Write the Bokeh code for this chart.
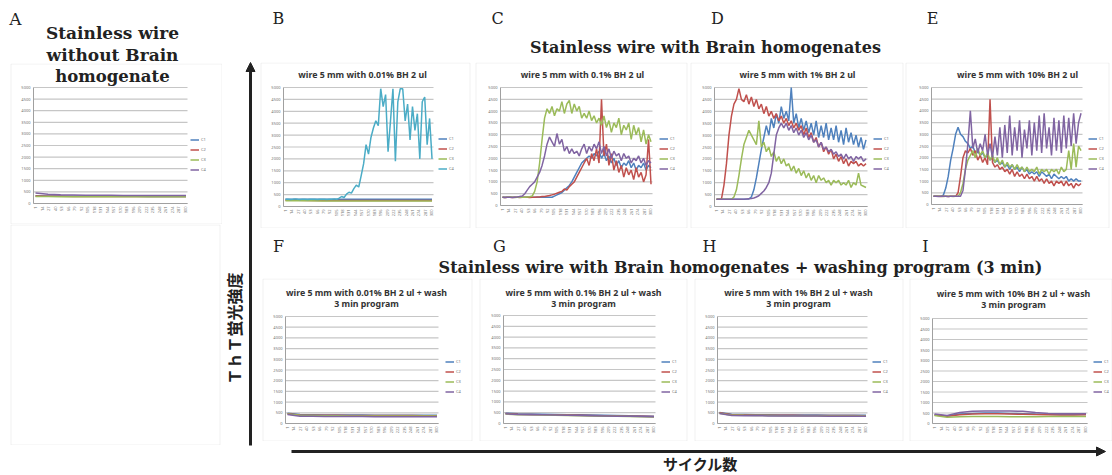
import math
from bokeh.plotting import figure
from bokeh.models import Range1d, Legend, LegendItem, Arrow, NormalHead, BoxAnnotation
from bokeh.layouts import row, column
from bokeh.core.properties import value
from bokeh.embed import file_html
from bokeh.resources import INLINE

# ---------------- data ----------------
cycles = list(range(1, 302, 5))          # 61 sampled cycles
coarse_cycles = list(range(1, 302, 25))  # 13 sampled cycles for flat runs
y_ticks = [0, 500, 1000, 1500, 2000, 2500, 3000, 3500, 4000, 4500, 5000]
x_tick_labels = ["1", "14", "27", "40", "53", "66", "79", "92", "105", "118", "131", "144",
                 "157", "170", "183", "196", "209", "222", "235", "248", "261", "274", "287", "300"]
series_names = ["C1", "C2", "C3", "C4"]
colors_main = ["#4F81BD", "#C0504D", "#9BBB59", "#8064A2"]
colors_b = ["#4F81BD", "#C0504D", "#9BBB59", "#4BACC6"]

# A: no brain homogenate
a_c1 = [330, 320, 320, 315, 315, 310, 310, 310, 310, 305, 305, 305, 305]
a_c2 = [320, 310, 310, 305, 305, 300, 300, 300, 300, 300, 300, 300, 300]
a_c3 = [300, 300, 295, 295, 295, 290, 290, 290, 290, 290, 290, 290, 290]
a_c4 = [450, 400, 380, 370, 360, 360, 355, 350, 350, 350, 350, 350, 350]

# B: 0.01% BH
b_c1 = [300, 300, 300, 300, 300, 300, 300, 300, 300, 300, 300, 300, 300]
b_c2 = [260, 260, 255, 255, 255, 250, 250, 250, 250, 250, 250, 250, 250]
b_c3 = [240, 240, 240, 235, 235, 235, 235, 235, 235, 235, 235, 235, 235]
b_c4 = [300, 310, 290, 300, 320, 300, 290, 310, 300, 290,
        300, 310, 300, 290, 300, 310, 300, 290, 310, 300,
        320, 300, 350, 420, 380, 520, 600, 560, 750, 900,
        820, 1300, 1800, 2600, 2200, 2900, 3300, 3600, 3400, 4950,
        4200, 4700, 2300, 3600, 4950, 1900, 4400, 4950, 4950, 3600,
        4300, 2800, 4200, 3200, 3900, 2000, 4400, 4600, 2600, 3700,
        2000]

# C: 0.1% BH
c_c1 = [350, 345, 350, 350, 345, 350, 350, 345, 350, 350,
        350, 345, 350, 350, 345, 350, 350, 345, 350, 350,
        350, 400, 450, 500, 550, 650, 750, 850, 1000, 1200,
        1400, 1600, 1800, 1900, 2000, 2100, 2000, 2200, 2100, 2300,
        2000, 2200, 1900, 2100, 1800, 2000, 1700, 1900, 1600, 1800,
        1700, 1900, 1600, 1800, 1500, 1700, 1600, 1800, 1500, 1700,
        1600]
c_c2 = [350, 340, 350, 350, 340, 350, 350, 340, 350, 350,
        350, 340, 350, 350, 360, 360, 380, 380, 400, 420,
        450, 480, 520, 560, 600, 700, 650, 800, 900, 1000,
        1200, 1400, 1600, 1800, 2000, 1700, 2200, 1900, 2400, 1800,
        4500, 2100, 2600, 1700, 2200, 1500, 1900, 1400, 1700, 1200,
        1600, 1300, 1500, 1100, 1600, 1200, 1400, 1000, 1300, 2800,
        900]
c_c3 = [350, 340, 350, 360, 350, 340, 350, 360, 350, 350,
        360, 370, 400, 600, 1000, 1800, 2800, 3700, 4100, 3900,
        4200, 3800, 4100, 4000, 4400, 3900, 4300, 4450, 3900, 4300,
        4000, 4200, 3700, 3900, 3700, 4000, 3600, 3800, 3500, 3700,
        3400, 3800, 3300, 3600, 3100, 3500, 3300, 3700, 3000, 3400,
        3200, 3500, 2800, 3400, 3000, 3300, 2700, 3200, 2600, 3000,
        2700]
c_c4 = [350, 340, 350, 350, 340, 350, 360, 380, 400, 500,
        650, 800, 900, 1000, 1200, 1400, 1700, 2100, 2600, 2900,
        2700, 2500, 3050, 2600, 2800, 2300, 2500, 2200, 2400, 2200,
        2300, 2100, 2400, 2600, 2200, 2500, 2300, 2600, 2400, 2700,
        2200, 2500, 2100, 2400, 2000, 2300, 2100, 2200, 1900, 2200,
        2000, 2100, 1800, 2000, 1900, 2100, 1800, 2000, 1700, 1900,
        1800]

# D: 1% BH
d_c1 = [300, 300, 300, 300, 310, 300, 300, 300, 310, 300,
        300, 300, 310, 320, 400, 700, 1200, 1800, 2400, 2900,
        3400, 3000, 3700, 3300, 3900, 3500, 4200, 3700, 4000, 3600,
        5000, 3500, 3900, 3300, 3700, 3200, 3600, 3100, 3500, 3000,
        3600, 2900, 3400, 2900, 3500, 2800, 3300, 2800, 3400, 2700,
        3200, 2600, 3300, 2700, 3100, 2600, 3000, 2500, 2900, 2400,
        2800]
d_c2 = [300, 300, 320, 900, 1800, 3000, 3800, 4300, 4500, 4950,
        4500, 4400, 4700, 4300, 4600, 4200, 4500, 4100, 4300, 3900,
        4200, 3800, 4000, 3700, 3900, 3600, 3800, 3500, 3700, 3400,
        3600, 3300, 3500, 3200, 3400, 3000, 3300, 2900, 3100, 2700,
        2900, 2500, 2700, 2300, 2500, 2200, 2400, 2000, 2200, 1900,
        2100, 1800, 2000, 1700, 1900, 1800, 1900, 1700, 1800, 1700,
        1800]
d_c3 = [300, 300, 300, 310, 300, 300, 300, 400, 700, 1300,
        2000, 2600, 2900, 3200, 3000, 2800, 2600, 3600, 2500, 2700,
        2300, 2500, 2100, 2300, 1900, 2100, 1800, 2000, 1700, 1800,
        1500, 1700, 1400, 1600, 1300, 1500, 1200, 1400, 1100, 1300,
        1000, 1300, 1100, 1200, 1000, 1100, 900, 1100, 1000, 1100,
        900, 1000, 900, 1100, 800, 1000, 900, 1400, 900, 850,
        800]
d_c4 = [300, 300, 300, 310, 300, 300, 300, 310, 300, 300,
        300, 310, 320, 330, 340, 360, 400, 450, 550, 650,
        800, 1000, 1400, 2200, 3000, 3300, 3500, 3300, 3500, 3200,
        3400, 3100, 3300, 3000, 3200, 2900, 3100, 2800, 3000, 2700,
        2800, 2500, 2700, 2400, 2500, 2300, 2400, 2200, 2300, 2100,
        2200, 2000, 2200, 2000, 2100, 1900, 2100, 2000, 2100, 1900,
        2000]

# E: 10% BH
e_c1 = [350, 350, 350, 350, 400, 700, 1200, 1900, 2400, 3000,
        3300, 3000, 2900, 2700, 2600, 2400, 2500, 2200, 2300, 2100,
        2200, 2000, 2100, 1900, 2000, 1800, 1900, 1700, 1800, 1600,
        1700, 1500, 1700, 1500, 1600, 1400, 1600, 1400, 1500, 1300,
        1400, 1300, 1400, 1200, 1400, 1300, 1200, 1300, 1100, 1300,
        1200, 1100, 1200, 1100, 1200, 1000, 1100, 1000, 1100, 1000,
        1000]
e_c2 = [350, 350, 350, 340, 350, 350, 340, 350, 350, 350,
        500, 1200, 2000, 2300, 2200, 2400, 2100, 2300, 1900, 2100,
        1800, 2000, 1700, 4500, 1800, 1600, 1700, 1500, 1600, 1400,
        1500, 1300, 1500, 1200, 1400, 1200, 1300, 1100, 1300, 1100,
        1200, 1000, 1200, 1000, 1100, 900, 1100, 900, 1000, 800,
        1000, 900, 1000, 800, 1000, 800, 900, 700, 900, 800,
        900]
e_c3 = [350, 350, 350, 350, 340, 350, 350, 350, 340, 350,
        350, 500, 900, 1500, 1900, 2100, 2300, 2000, 2400, 2100,
        2300, 2000, 2200, 1900, 2100, 1800, 2000, 1700, 1900, 1600,
        1800, 1600, 1700, 1500, 1700, 1500, 1600, 1400, 1600, 1400,
        1500, 1400, 1600, 1300, 1500, 1400, 1500, 1300, 1500, 1400,
        1500, 1300, 1600, 1400, 1500, 2300, 1500, 2600, 1600, 2500,
        2300]
e_c4 = [350, 350, 340, 350, 350, 350, 340, 350, 350, 350,
        350, 350, 600, 1500, 2600, 4000, 2400, 2800, 2200, 2600,
        2300, 3000, 2100, 2600, 2000, 2900, 2100, 3300, 2000, 3400,
        2200, 3800, 2100, 3300, 2300, 3600, 2000, 3200, 2400, 3600,
        2100, 3500, 2300, 3800, 2200, 3900, 2400, 3300, 2100, 3700,
        2300, 3600, 2200, 3800, 2400, 3700, 2500, 3900, 2600, 3500,
        3900]

# F-I: with washing program
f_c1 = [480, 420, 410, 400, 400, 395, 395, 390, 390, 390, 390, 385, 385]
f_c2 = [460, 400, 390, 380, 380, 375, 375, 370, 370, 370, 370, 365, 365]
f_c3 = [440, 380, 370, 360, 360, 355, 355, 350, 350, 350, 350, 345, 345]
f_c4 = [420, 340, 335, 330, 330, 325, 325, 320, 320, 320, 320, 320, 320]
g_c1 = [480, 450, 440, 430, 420, 410, 400, 390, 380, 370, 360, 350, 340]
g_c2 = [460, 430, 420, 410, 400, 390, 380, 370, 360, 350, 340, 330, 320]
g_c3 = [440, 410, 400, 390, 380, 370, 360, 350, 340, 330, 320, 310, 300]
g_c4 = [450, 420, 410, 400, 390, 380, 370, 360, 350, 340, 330, 320, 310]
h_c1 = [520, 430, 420, 410, 405, 400, 400, 395, 395, 390, 390, 390, 385]
h_c2 = [500, 410, 400, 390, 385, 380, 380, 375, 375, 370, 370, 370, 365]
h_c3 = [480, 390, 380, 375, 370, 365, 365, 360, 360, 355, 355, 355, 350]
h_c4 = [470, 370, 365, 360, 355, 350, 350, 345, 345, 340, 340, 340, 340]
i_c1 = [420, 360, 450, 480, 500, 500, 480, 470, 450, 440, 430, 430, 440]
i_c2 = [400, 340, 420, 450, 460, 460, 450, 440, 430, 420, 410, 410, 420]
i_c3 = [380, 300, 320, 330, 330, 330, 320, 320, 320, 330, 330, 330, 330]
i_c4 = [450, 380, 520, 580, 600, 600, 590, 580, 520, 480, 470, 460, 470]

# ---------------- styling helpers ----------------
HEAD_FONT = "DejaVu Serif"
SMALL_FONT = "Noto Sans"
CJK_FONT = "Noto Sans CJK JP"
BOX_COLOR = "#d0d0d0"
GRID_COLOR = "#c6c6c6"
AXIS_COLOR = "#a0a0a0"
TICK_COLOR = "#707070"
X_LO, X_HI = -3, 304
Y_LO, Y_HI = 0, 5000


def add_box(p, x0, x1, h):
    p.add_layout(BoxAnnotation(left=x0 + 0.5, right=x1 - 0.5, top=0.5, bottom=h - 0.5,
                               left_units="canvas", right_units="canvas",
                               top_units="canvas", bottom_units="canvas",
                               fill_alpha=0, line_color=BOX_COLOR, line_width=1))


def chart(w, h, box, plot_px, titles, title_cx, title_ys, xs, ys, colors, leg_px,
          tfont=SMALL_FONT, tsize="8.8px", tcolor="#333333"):
    L, R, T, B = plot_px
    sx = (R - L) / float(X_HI - X_LO)
    sy = (B - T) / float(Y_HI - Y_LO)
    x_start = X_LO - L / sx
    y_end = Y_HI + T / sy
    p = figure(width=w, height=h, output_backend="svg", toolbar_location=None,
               x_range=Range1d(x_start, x_start + w / sx),
               y_range=Range1d(y_end - h / sy, y_end),
               min_border_left=0, min_border_right=0, min_border_top=0, min_border_bottom=0,
               background_fill_color="white", border_fill_color="white", outline_line_color=None)
    p.axis.visible = False
    p.grid.visible = False

    def px2x(px):
        return x_start + px / sx

    def py2y(py):
        return y_end - py / sy

    # gridlines and axis lines
    n = len(y_ticks)
    p.segment(x0=[X_LO] * n, x1=[X_HI] * n, y0=y_ticks, y1=y_ticks,
              line_color=GRID_COLOR, line_width=1.2)
    p.segment(x0=[X_LO, X_LO], x1=[X_LO, X_HI], y0=[Y_LO, Y_LO], y1=[Y_HI, Y_LO],
              line_color=AXIS_COLOR, line_width=1)
    # tick labels
    p.text(x=[X_LO] * n, y=y_ticks, text=[str(t) for t in y_ticks], text_align="right",
           text_baseline="middle", x_offset=-3, text_font=value(SMALL_FONT),
           text_font_size="4px", text_color=TICK_COLOR)
    xt = [int(s) for s in x_tick_labels]
    p.text(x=xt, y=[Y_LO] * len(xt), text=x_tick_labels, angle=math.pi / 2, text_align="right",
           text_baseline="middle", y_offset=3, text_font=value(SMALL_FONT),
           text_font_size="4px", text_color=TICK_COLOR)
    # series
    items = []
    for x, y, c, nme in zip(xs, ys, colors, series_names):
        r = p.line(x, y, line_color=c, line_width=1.5)
        items.append(LegendItem(label=nme, renderers=[r]))
    lx, ly_top = leg_px
    leg_h = 4 * 5 + 3 * 5 + 2
    leg = Legend(items=items, location=(lx, h - ly_top - leg_h), label_text_font=SMALL_FONT,
                 label_text_font_size="4px", label_text_color=TICK_COLOR,
                 glyph_width=9, glyph_height=5, label_height=5, label_standoff=2,
                 spacing=5, padding=1, margin=0, border_line_color=None,
                 background_fill_alpha=0)
    p.add_layout(leg)
    # titles
    for t, ty in zip(titles, title_ys):
        p.text(x=[px2x(title_cx)], y=[py2y(ty)], text=[t], text_align="center",
               text_baseline="middle", text_font=value(tfont), text_font_size=tsize,
               text_font_style="bold", text_color=tcolor)
    add_box(p, box[0], box[1], h)
    return p


def canvas(w, h):
    p = figure(width=w, height=h, output_backend="svg", toolbar_location=None,
               x_range=Range1d(0, w), y_range=Range1d(0, h),
               min_border_left=0, min_border_right=0, min_border_top=0, min_border_bottom=0,
               background_fill_color="white", border_fill_color="white", outline_line_color=None)
    p.axis.visible = False
    p.grid.visible = False
    return p


def head_text(p, x, y, t, size="16px", font=HEAD_FONT, style="bold", align="center"):
    p.text(x=[x], y=[y], text=[t], text_align=align, text_baseline="middle",
           text_font=value(font), text_font_size=size, text_font_style=style, text_color="#222222")


fine4 = [cycles] * 4
coarse4 = [coarse_cycles] * 4

# ---------------- left column (A) ----------------
a_head = canvas(222, 63)
head_text(a_head, 15, 45, "A", size="17px", style="normal")
head_text(a_head, 112, 31, "Stainless wire", size="17px")
head_text(a_head, 112, 9, "without Brain", size="17px")
pa = chart(222, 161, (10, 222), (33, 187, 24, 140), ["homogenate"], 112, [13], coarse4,
           [a_c1, a_c2, a_c3, a_c4], colors_main, (190, 72),
           tfont=HEAD_FONT, tsize="16.5px", tcolor="#222222")
a_empty = canvas(222, 221)
add_box(a_empty, 10, 220, 221)
left_col = column(a_head, pa, a_empty)

# ---------------- middle column (y axis arrow) ----------------
mid = canvas(36, 475)
mid.add_layout(Arrow(end=NormalHead(size=9, fill_color="#222222", line_color="#222222"),
                     x_start=28, y_start=30, x_end=28, y_end=413,
                     line_width=3, line_color="#222222"))
mid.text(x=[11], y=[147], text=["ＴｈＴ蛍光強度"], angle=math.pi / 2, text_align="center",
         text_baseline="middle", text_font=value(CJK_FONT), text_font_size="16px",
         text_font_style="bold", text_color="#222222")

# ---------------- right part ----------------
h1 = canvas(854, 62)
for lx, lt in zip([20, 239, 459, 674], ["B", "C", "D", "E"]):
    head_text(h1, lx, 44, lt, size="16px", style="normal")
head_text(h1, 447, 15, "Stainless wire with Brain homogenates")

pb = chart(214, 166, (2, 212), (25, 175, 25, 144), ["wire 5 mm with 0.01% BH 2 ul"], 104, [12],
           [coarse_cycles, coarse_cycles, coarse_cycles, cycles], [b_c1, b_c2, b_c3, b_c4],
           colors_b, (180, 72))
pc = chart(217, 166, (3, 215), (28, 180, 25, 143), ["wire 5 mm with 0.1% BH 2 ul"], 110, [12],
           fine4, [c_c1, c_c2, c_c3, c_c4], colors_main, (187, 72))
pd = chart(215, 166, (1, 214), (25, 178, 25, 144), ["wire 5 mm with 1% BH 2 ul"], 108, [12],
           fine4, [d_c1, d_c2, d_c3, d_c4], colors_main, (184, 72))
pe = chart(208, 166, (1, 205), (27, 178, 25, 142), ["wire 5 mm with 10% BH 2 ul"], 113, [12],
           fine4, [e_c1, e_c2, e_c3, e_c4], colors_main, (184, 72))
row1 = row(pb, pc, pd, pe)

h2 = canvas(854, 50)
for lx, lt in zip([20, 241, 451, 667], ["F", "G", "H", "I"]):
    head_text(h2, lx, 32, lt, size="16px", style="normal")
head_text(h2, 482, 11, "Stainless wire with Brain homogenates + washing program (3 min)")

wash = "3 min program"
pf = chart(217, 163, (4, 214), (27, 180, 38, 145), ["wire 5 mm with 0.01% BH 2 ul + wash", wash],
           108, [14, 25], coarse4, [f_c1, f_c2, f_c3, f_c4], colors_main, (187, 79))
pg = chart(215, 163, (4, 212), (28, 180, 37, 145), ["wire 5 mm with 0.1% BH 2 ul + wash", wash],
           108, [14, 25], coarse4, [g_c1, g_c2, g_c3, g_c4], colors_main, (186, 79))
ph = chart(216, 163, (4, 213), (27, 177, 38, 145), ["wire 5 mm with 1% BH 2 ul + wash", wash],
           108, [14, 25], coarse4, [h_c1, h_c2, h_c3, h_c4], colors_main, (182, 79))
pi_ = chart(206, 163, (3, 206), (26, 181, 40, 145), ["wire 5 mm with 10% BH 2 ul + wash", wash],
            107, [15, 26], coarse4, [i_c1, i_c2, i_c3, i_c4], colors_main, (187, 79))
row2 = row(pf, pg, ph, pi_)

bottom = canvas(854, 34)
bottom.add_layout(Arrow(end=NormalHead(size=9, fill_color="#222222", line_color="#222222"),
                        x_start=33, y_start=24, x_end=847, y_end=24,
                        line_width=3, line_color="#222222"))
head_text(bottom, 442, 12.5, "サイクル数", size="15px", font=CJK_FONT)

right_col = column(h1, row1, h2, row2, bottom)
layout = row(left_col, mid, right_col)

open("out.html", "w").write(file_html(layout, INLINE))
